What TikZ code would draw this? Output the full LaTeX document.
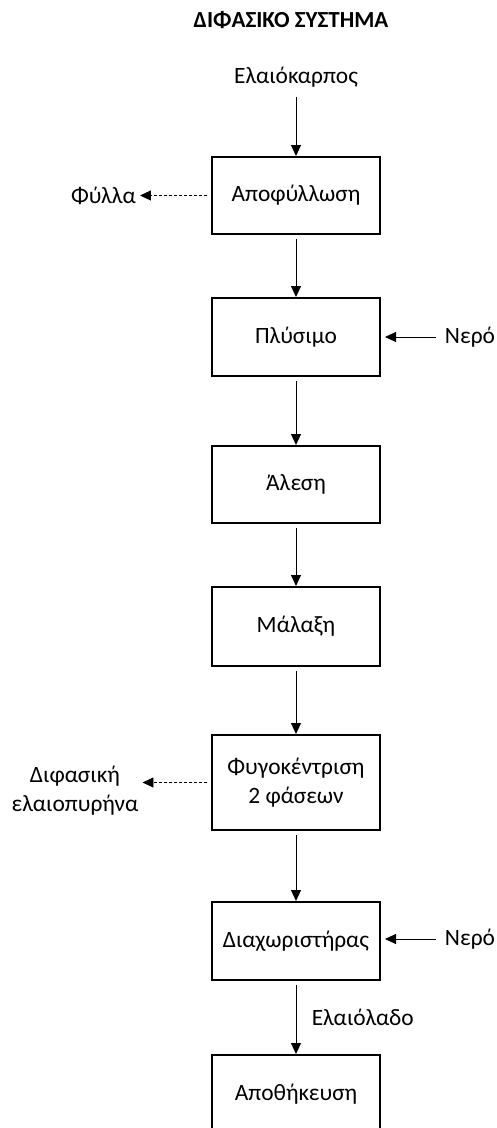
\documentclass[tikz,border=0pt]{standalone}
\usepackage{fontspec}
\setmainfont{Carlito}
\usetikzlibrary{arrows.meta}
\tikzset{>={Triangle[length=11pt,width=10pt]}}
\tikzset{
stage/.style={draw, line width=2pt, minimum width=168pt, minimum height=78pt, inner sep=0pt, align=center},
label/.style={inner sep=0pt, align=center},
flow/.style={->, line width=0.9pt, shorten <=4pt},
waste/.style={->, line width=0.9pt, dash pattern=on 3pt off 2pt, shorten <=4pt, shorten >=4pt}
}

\begin{document}
\begin{tikzpicture}[x=1pt, y=-1pt, font=\fontsize{23.4}{29}\selectfont]
\useasboundingbox (0,0) rectangle (496,1128);

\node[label, font=\fontsize{23}{27}\selectfont\bfseries] (title) at (291,20) {ΔΙΦΑΣΙΚΟ ΣΥΣΤΗΜΑ};
\node[label] (olives) at (296,77) {Ελαιόκαρπος};

\node[stage, minimum height=77pt] (b1) at (296,195.5) {Αποφύλλωση};
\node[stage] (b2) at (296,337) {Πλύσιμο};
\node[stage, minimum height=77pt] (b3) at (296,484.5) {Άλεση};
\node[stage, minimum height=79pt] (b4) at (296,626.5) {Μάλαξη};
\node[stage, minimum height=95pt] (b5) at (296,782.5) {Φυγοκέντριση\\2 φάσεων};
\node[stage] (b6) at (296,941) {Διαχωριστήρας};
\node[stage] (b7) at (296,1094) {Αποθήκευση};

\node[label] (leaves) at (103.5,195.5) {Φύλλα};
\node[label] (pomace) at (75,791) {Διφασική\\ελαιοπυρήνα};
\node[label] (water1) at (470,337) {Νερό};
\node[label] (water2) at (470,939) {Νερό};

\path[flow]
(olives) edge[shorten <=10pt] (b1)
(b1) edge (b2)
(b2) edge (b3)
(b3) edge (b4)
(b4) edge (b5)
(b5) edge (b6)
(b6) edge node[anchor=west, xshift=12pt] {Ελαιόλαδο} (b7)
(water1) edge[shorten <=9pt, shorten >=4pt] (b2)
(water2) edge[shorten <=9pt, shorten >=4pt] (water2 -| b6.east)
;
\path
(b1) edge[waste] (leaves)
(b5) edge[waste] (b5 -| pomace.east)
;
\end{tikzpicture}
\end{document}
